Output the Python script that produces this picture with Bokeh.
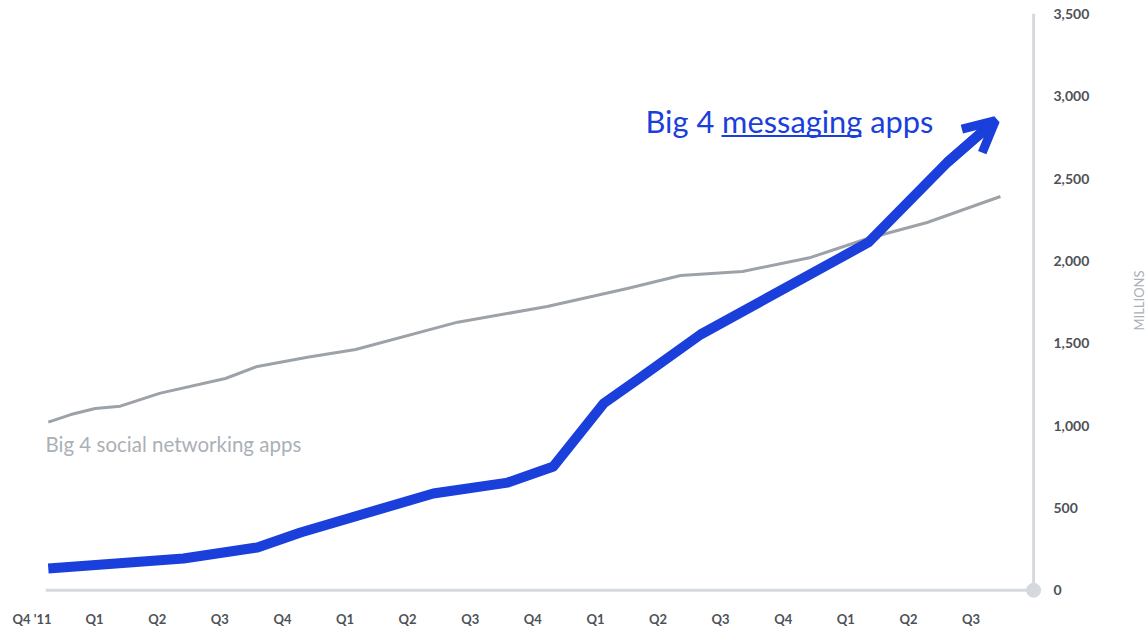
import math
from bokeh.plotting import figure
from bokeh.models import Range1d, Arrow, OpenHead
from bokeh.core.properties import value
from bokeh.embed import file_html
from bokeh.resources import INLINE

# ---------------- data ----------------
quarter_labels = ["Q4 '11", "Q1", "Q2", "Q3", "Q4", "Q1", "Q2", "Q3", "Q4",
                  "Q1", "Q2", "Q3", "Q4", "Q1", "Q2", "Q3"]
quarter_pos = list(range(len(quarter_labels)))

y_ticks = [0, 500, 1000, 1500, 2000, 2500, 3000, 3500]

messaging_x = [0.26, 2.42, 3.60, 4.29, 6.41, 7.60, 8.33, 9.13, 9.72, 10.68,
               13.36, 14.62, 15.39]
messaging_y = [132, 193, 260, 351, 588, 654, 752, 1134, 1292, 1553,
               2112, 2597, 2852]

social_x = [0.26, 0.62, 1.01, 1.41, 2.05, 3.09, 3.60, 4.40, 5.17, 6.80,
            8.23, 9.51, 10.36, 11.35, 12.44, 13.35, 14.30, 15.47]
social_y = [1021, 1067, 1104, 1118, 1197, 1286, 1359, 1415, 1462, 1628,
            1723, 1832, 1911, 1936, 2021, 2136, 2233, 2391]

axis_x = 16          # position of the value axis (in quarter units)
axis_start = 0.22    # start of the baseline

# ---------------- layout ----------------
W, H = 1147, 626
PX0, PXQ = 31.5, 62.6       # pixel of quarter 0, pixels per quarter
PY0, PYV = 589.8, 0.16471   # pixel of value 0, pixels per unit


def px_to_x(px):
    return (px - PX0) / PXQ


def py_to_y(py):
    return (PY0 - py) / PYV


BLUE = "#1b3fda"
GRAY_LINE = "#9da2a8"
AXIS = "#d5d9de"
LABEL = "#4d5257"
LIGHT_TEXT = "#abb0b6"

p = figure(width=W, height=H, output_backend="svg", toolbar_location=None,
           x_axis_location=None, y_axis_location=None, min_border=0,
           x_range=Range1d(px_to_x(0), px_to_x(W)),
           y_range=Range1d(py_to_y(H), py_to_y(0)),
           outline_line_color=None, background_fill_color="white",
           border_fill_color="white")
p.grid.visible = False

# axis lines
p.segment(x0=[axis_x], y0=[y_ticks[0]], x1=[axis_x], y1=[y_ticks[-1]],
          line_color=AXIS, line_width=3)
p.segment(x0=[axis_start], y0=[0], x1=[axis_x], y1=[0],
          line_color=AXIS, line_width=3)
p.scatter(x=[axis_x], y=[0], size=14, color=AXIS)

# value tick labels
p.text(x=[px_to_x(1053)] * len(y_ticks), y=y_ticks,
       text=[f"{v:,}" for v in y_ticks],
       text_font=value("Lato"), text_font_size="14px", text_font_style="bold",
       text_color=LABEL, text_align="left", text_baseline="middle")

# quarter tick labels
p.text(x=quarter_pos, y=[py_to_y(618)] * len(quarter_pos), text=quarter_labels,
       text_font=value("Lato"), text_font_size="13px", text_font_style="bold",
       text_color=LABEL, text_align="center", text_baseline="middle")

# axis title
p.text(x=[px_to_x(1138.5)], y=[py_to_y(300)], text=["MILLIONS"], angle=math.pi / 2,
       text_font=value("Lato"), text_font_size="13px",
       text_color=LIGHT_TEXT, text_align="center", text_baseline="middle")

# series
p.line(social_x, social_y, line_color=GRAY_LINE, line_width=3,
       line_join="round")
p.line(messaging_x, messaging_y, line_color=BLUE, line_width=10,
       line_join="round")
p.add_layout(Arrow(end=OpenHead(size=31, line_color=BLUE, line_width=9),
                   x_start=messaging_x[-2], y_start=messaging_y[-2],
                   x_end=messaging_x[-1], y_end=messaging_y[-1],
                   line_color=BLUE, line_width=10))

# annotations (baseline positions corrected for the renderer's text offset)
p.text(x=[px_to_x(645)], y=[py_to_y(120.5)], text=["Big 4 messaging apps"],
       text_font=value("Lato"), text_font_size="30.8px", text_color=BLUE,
       text_align="left", text_baseline="alphabetic")
p.segment(x0=[px_to_x(721)], y0=[py_to_y(135.5)], x1=[px_to_x(861)],
          y1=[py_to_y(135.5)], line_color=BLUE, line_width=2)

p.text(x=[px_to_x(45)], y=[py_to_y(443)], text=["Big 4 social networking apps"],
       text_font=value("Lato"), text_font_size="20.5px", text_color=LIGHT_TEXT,
       text_align="left", text_baseline="alphabetic")

open("out.html", "w").write(file_html(p, INLINE))
